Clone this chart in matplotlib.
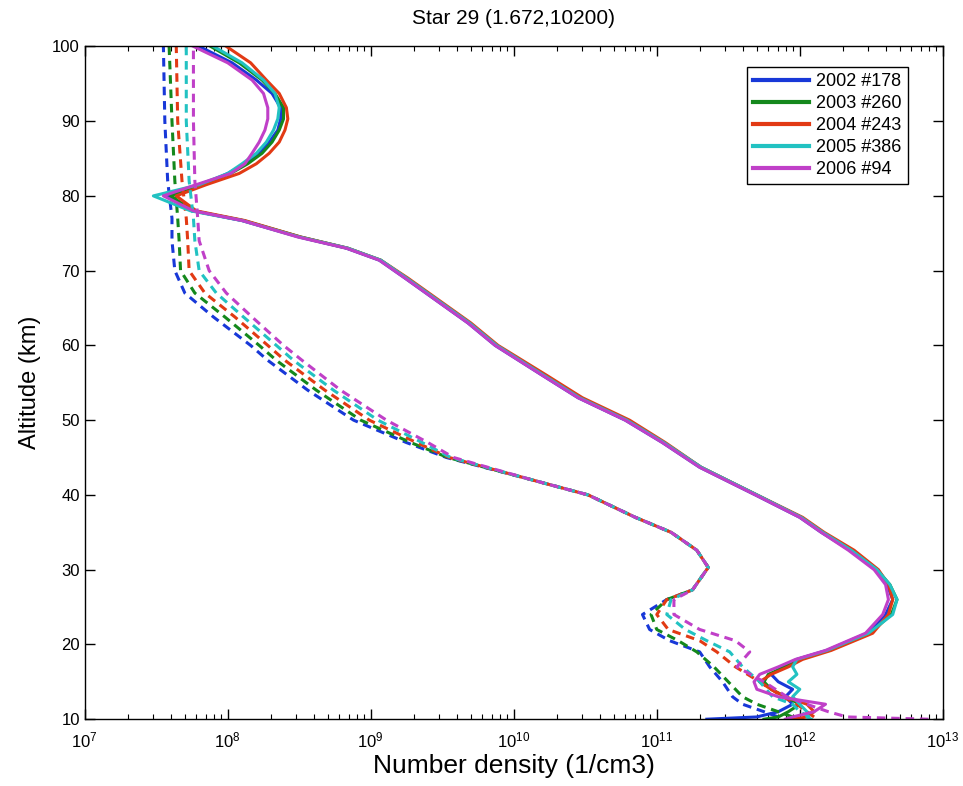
import numpy as np
import matplotlib
matplotlib.use("Agg")
import matplotlib.pyplot as plt
from matplotlib.ticker import FixedLocator, NullFormatter, LogFormatterMathtext

plt.rcParams['font.family'] = ['Liberation Sans', 'DejaVu Sans']

# legend labels and line colours
labels = ["2002 #178", "2003 #260", "2004 #243", "2005 #386", "2006 #94"]
colors = ["#1838d8", "#14881c", "#e23a14", "#22c2c2", "#c040c8"]

# altitude grid (km) for the solid profiles
alt_solid = [10, 10.3, 11, 12, 13, 14, 15, 16, 17, 18, 19.2, 21.5, 24, 26, 28, 30,
             32.6, 35, 37, 40, 43.7, 47, 50, 53, 56, 60, 63, 66, 69, 71.4, 73,
             74.5, 76.7, 78, 80, 81.5, 83, 84.3, 85.7, 87.2, 88.8, 90.3, 91.8,
             93.7, 95.5, 97.8, 100]

# log10 number density, solid profiles
solid_2002 = [11.35, 11.70, 11.85, 11.95, 11.90, 11.95, 11.85, 11.80, 11.88, 11.98, 12.19, 12.47,
              12.60, 12.65, 12.61, 12.53, 12.35, 12.15, 12.00, 11.69, 11.30, 11.04, 10.78, 10.45,
              10.20, 9.87, 9.68, 9.46, 9.24, 9.06, 8.83, 8.50, 8.10, 7.76, 7.57, 7.82, 8.00,
              8.12, 8.22, 8.29, 8.35, 8.37, 8.37, 8.31, 8.20, 8.03, 7.80]
solid_2003 = [11.75, 11.85, 11.92, 12.00, 11.90, 11.80, 11.75, 11.78, 11.90, 11.99, 12.20, 12.49,
              12.64, 12.68, 12.63, 12.54, 12.36, 12.16, 12.01, 11.70, 11.31, 11.05, 10.79, 10.46,
              10.21, 9.88, 9.69, 9.47, 9.25, 9.07, 8.84, 8.51, 8.11, 7.76, 7.60, 7.80, 8.02,
              8.14, 8.24, 8.31, 8.36, 8.39, 8.39, 8.33, 8.24, 8.08, 7.88]
solid_2004 = [11.95, 12.05, 12.10, 12.05, 11.90, 11.80, 11.72, 11.80, 11.92, 12.02, 12.22, 12.51,
              12.62, 12.65, 12.62, 12.55, 12.38, 12.17, 12.02, 11.70, 11.31, 11.06, 10.81, 10.48,
              10.23, 9.89, 9.70, 9.48, 9.26, 9.07, 8.84, 8.51, 8.12, 7.78, 7.64, 7.85, 8.08,
              8.20, 8.29, 8.36, 8.40, 8.42, 8.41, 8.36, 8.27, 8.16, 7.99]
solid_2005 = [12.08, 12.05, 12.05, 12.00, 11.95, 12.00, 11.92, 11.98, 11.95, 11.98, 12.19, 12.48,
              12.65, 12.68, 12.63, 12.54, 12.36, 12.16, 12.01, 11.70, 11.31, 11.05, 10.79, 10.46,
              10.21, 9.88, 9.69, 9.47, 9.25, 9.07, 8.84, 8.50, 8.10, 7.74, 7.48, 7.80, 8.00,
              8.10, 8.20, 8.27, 8.32, 8.35, 8.36, 8.33, 8.25, 8.10, 7.90]
solid_2006 = [11.90, 11.95, 12.10, 12.18, 11.85, 11.70, 11.68, 11.72, 11.85, 11.97, 12.18, 12.46,
              12.58, 12.62, 12.60, 12.52, 12.34, 12.15, 12.00, 11.69, 11.30, 11.04, 10.78, 10.45,
              10.20, 9.87, 9.68, 9.46, 9.24, 9.06, 8.83, 8.49, 8.10, 7.76, 7.55, 7.78, 8.02,
              8.12, 8.17, 8.22, 8.26, 8.28, 8.28, 8.25, 8.17, 8.00, 7.76]

# altitude grid (km) for the dashed profiles
alt_dash = [10, 10.3, 11, 12, 13, 15, 17, 19, 20.5, 22, 24, 26, 27.3, 30.3, 32.6, 35, 37,
            40, 42, 45, 47, 50, 54, 58, 60, 63.8, 67, 70, 74, 77, 82, 90, 100]

# log10 number density, dashed profiles
dash_2002 = [np.nan, 11.85, 11.75, 11.60, 11.53, 11.46, 11.37, 11.30, 11.09, 10.95, 10.90, 11.07,
             11.25, 11.36, 11.28, 11.10, 10.85, 10.52, 10.13, 9.53, 9.25, 8.88, 8.56, 8.28,
             8.16, 7.90, 7.70, 7.63, 7.61, 7.61, 7.58, 7.56, 7.55]
dash_2003 = [np.nan, 11.95, 11.85, 11.70, 11.60, 11.50, 11.40, 11.28, 11.15, 11.00, 10.96, 11.07,
             11.25, 11.36, 11.28, 11.10, 10.85, 10.52, 10.13, 9.54, 9.28, 8.93, 8.62, 8.34,
             8.22, 7.98, 7.77, 7.67, 7.66, 7.65, 7.63, 7.61, 7.59]
dash_2004 = [np.nan, 12.10, 12.05, 11.98, 11.88, 11.72, 11.55, 11.42, 11.30, 11.08, 11.00, 11.07,
             11.25, 11.36, 11.28, 11.10, 10.85, 10.52, 10.13, 9.55, 9.32, 8.99, 8.68, 8.40,
             8.28, 8.05, 7.84, 7.73, 7.72, 7.71, 7.68, 7.65, 7.64]
dash_2005 = [np.nan, 12.07, 12.00, 11.95, 11.81, 11.72, 11.60, 11.51, 11.35, 11.20, 11.07, 11.10,
             11.25, 11.36, 11.28, 11.10, 10.85, 10.52, 10.13, 9.56, 9.36, 9.05, 8.74, 8.46,
             8.34, 8.11, 7.92, 7.80, 7.77, 7.76, 7.73, 7.71, 7.71]
dash_2006 = [12.90, 12.33, 12.20, 12.05, 11.91, 11.75, 11.56, 11.65, 11.55, 11.30, 11.12, 11.12,
             11.25, 11.36, 11.28, 11.10, 10.85, 10.52, 10.13, 9.58, 9.40, 9.11, 8.79, 8.52,
             8.39, 8.17, 7.99, 7.87, 7.80, 7.79, 7.77, 7.76, 7.76]

solids = [solid_2002, solid_2003, solid_2004, solid_2005, solid_2006]
dashes = [dash_2002, dash_2003, dash_2004, dash_2005, dash_2006]

fig = plt.figure(figsize=(9.63, 7.86), dpi=100)
ax = fig.add_axes([0.088, 0.085, 0.891, 0.856])

for lab, col, s, d in zip(labels, colors, solids, dashes):
    ax.plot(10 ** np.array(s), alt_solid, color=col, lw=2.2, label=lab)
    ax.plot(10 ** np.array(d, dtype=float), alt_dash, color=col, lw=2.2, ls=(0, (2.8, 1.9)))

ax.set_xscale("log")
ax.set_xlim(1e7, 1e13)
ax.set_ylim(10, 100)
ax.set_yticks(range(10, 101, 10))
ax.xaxis.set_major_locator(FixedLocator([1e7, 1e8, 1e9, 1e10, 1e11, 1e12, 1e13]))
ax.xaxis.set_major_formatter(LogFormatterMathtext())
minor = [m * 10.0 ** e for e in range(7, 13) for m in range(2, 10)]
ax.xaxis.set_minor_locator(FixedLocator(minor))
ax.xaxis.set_minor_formatter(NullFormatter())
ax.tick_params(which="both", direction="in", top=True, right=True, labelsize=12)
ax.tick_params(axis="x", which="major", pad=8)
ax.tick_params(which="major", length=7, width=1)
ax.tick_params(which="minor", length=3.5, width=0.8)
for sp in ax.spines.values():
    sp.set_linewidth(1.0)

ax.set_title("Star 29 (1.672,10200)", fontsize=15, pad=16)
ax.set_xlabel("Number density (1/cm3)", fontsize=19, labelpad=3)
ax.set_ylabel("Altitude (km)", fontsize=17, labelpad=8)

leg = ax.legend(loc="upper left", bbox_to_anchor=(0.772, 0.970), fontsize=13,
                handlelength=3.1, handletextpad=0.35, borderpad=0.35, labelspacing=0.28,
                borderaxespad=0, fancybox=False, framealpha=1, edgecolor="black")
leg.get_frame().set_linewidth(1.0)
for h in leg.get_lines():
    h.set_linewidth(3)

fig.savefig("out.png", dpi=100)
